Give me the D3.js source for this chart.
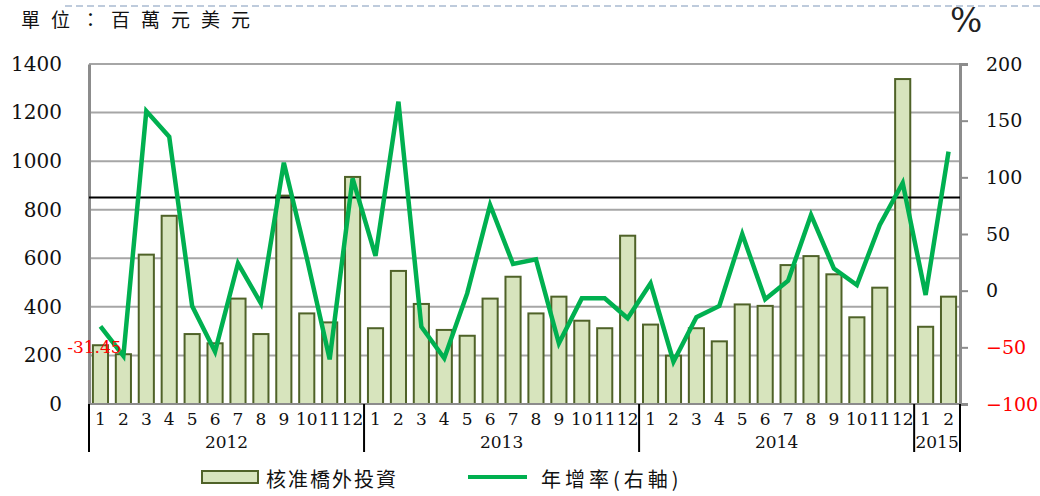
<!DOCTYPE html>
<html lang="zh-Hant">
<meta charset="utf-8">
<style>
body { margin: 0; background: #fff; }
text { font-family: "DejaVu Serif", "Liberation Serif", serif; }
.cjk { font-family: "Noto Sans CJK TC", sans-serif; }
</style>
<body>
<svg width="1040" height="496"></svg>
<script src="https://d3js.org/d3.v7.min.js"></script>
<script>

// data
var years = ["2012", "2013", "2014", "2015"];
var months = [1,2,3,4,5,6,7,8,9,10,11,12, 1,2,3,4,5,6,7,8,9,10,11,12,
              1,2,3,4,5,6,7,8,9,10,11,12, 1,2];
var monthYear = [0,0,0,0,0,0,0,0,0,0,0,0, 1,1,1,1,1,1,1,1,1,1,1,1,
                 2,2,2,2,2,2,2,2,2,2,2,2, 3,3];
var investment = [242, 205, 615, 775, 288, 250, 434, 288, 858, 373, 336, 935,
                  312, 548, 412, 305, 281, 434, 524, 373, 442, 343, 312, 693,
                  327, 199, 312, 258, 410, 404, 572, 609, 534, 357, 479, 1338,
                  318, 442];
var growth = [-31.45, -57.6, 158.5, 135.9, -13.5, -53.8, 24.1, -11.2, 112.9, 29, -60.6, 99,
              30.6, 166.8, -31.8, -59.7, -2.4, 75.6, 23.5, 27.6, -46.5, -6.8, -6.8, -24.4,
              6.5, -62.7, -23.5, -13.5, 50, -7.6, 8.8, 66.8, 19.5, 5, 58, 95, -3.8, 122.6];
var refLine = 850;
var leftTicks = [0, 200, 400, 600, 800, 1000, 1200, 1400];
var rightTicks = [-100, -50, 0, 50, 100, 150, 200];
var legendLabels = ["核准橋外投資", "年增率(右軸)"];

var svg = d3.select("svg");
var plotL = 89, plotR = 960, plotT = 64, plotB = 404;

var x = d3.scaleBand()
    .domain(d3.range(months.length))
    .range([plotL, plotR])
    .paddingInner(0.34)
    .paddingOuter(0.17);
var cx = function(i) { return x(i) + x.bandwidth() / 2; };

var y = d3.scaleLinear().domain([0, 1400]).range([plotB, plotT]);
var y2 = d3.scaleLinear().domain([-100, 200]).range([plotB, plotT]);

// dashed line at top
svg.append("line")
    .attr("x1", 65).attr("x2", 1040).attr("y1", 6).attr("y2", 6)
    .attr("stroke", "#a9bbd1").attr("stroke-width", 1.5)
    .attr("stroke-dasharray", "7,4");

svg.append("text")
    .attr("class", "cjk")
    .attr("x", 21).attr("y", 27)
    .attr("font-size", 19)
    .attr("letter-spacing", 11)
    .attr("fill", "#111")
    .text("單位：百萬元美元");

svg.append("text")
    .attr("x", 950).attr("y", 32)
    .attr("font-family", "Liberation Serif")
    .attr("font-size", 34)
    .attr("fill", "#222")
    .text("%");

// gridlines
svg.append("g")
  .selectAll("line")
  .data(leftTicks.filter(function(d) { return d > 0; }))
  .enter().append("line")
    .attr("x1", plotL).attr("x2", plotR)
    .attr("y1", function(d) { return y(d); })
    .attr("y2", function(d) { return y(d); })
    .attr("stroke", "#a6a6a6").attr("stroke-width", 2);

// left axis
var gl = svg.append("g").attr("transform", "translate(" + plotL + ",0)")
    .call(d3.axisLeft(y).tickValues(leftTicks).tickSize(0).tickPadding(27)
      .tickFormat(d3.format("d")));
gl.select(".domain").attr("stroke", "#8c8c8c").attr("stroke-width", 3);
gl.selectAll("text").attr("font-size", 20).attr("font-family", "DejaVu Serif").attr("fill", "#111");

// right axis
var gr = svg.append("g").attr("transform", "translate(" + plotR + ",0)")
    .call(d3.axisRight(y2).tickValues(rightTicks).tickSize(8).tickPadding(18)
      .tickFormat(d3.format("d")));
gr.select(".domain").attr("stroke", "#8c8c8c").attr("stroke-width", 3);
gr.selectAll("line").attr("stroke", "#8c8c8c").attr("stroke-width", 2);
gr.selectAll("text")
    .attr("font-size", 19).attr("font-family", "DejaVu Serif")
    .attr("fill", function(d) { return d < 0 ? "#ff0000" : "#111"; });

// bars
svg.append("g")
  .selectAll("rect")
  .data(investment)
  .enter().append("rect")
    .attr("x", function(d, i) { return x(i); })
    .attr("y", function(d) { return y(d); })
    .attr("width", x.bandwidth())
    .attr("height", function(d) { return y(0) - y(d); })
    .attr("fill", "#d7e4bd")
    .attr("stroke", "#4f6228")
    .attr("stroke-width", 2);

// baseline
svg.append("line")
    .attr("x1", plotL).attr("x2", plotR).attr("y1", y(0)).attr("y2", y(0))
    .attr("stroke", "#8c8c8c").attr("stroke-width", 2);

// reference line
svg.append("line")
    .attr("x1", plotL).attr("x2", plotR).attr("y1", y(refLine)).attr("y2", y(refLine))
    .attr("stroke", "#000").attr("stroke-width", 2);

// growth line
var line = d3.line()
    .x(function(d, i) { return cx(i); })
    .y(function(d) { return y2(d); });

svg.append("path")
    .datum(growth)
    .attr("fill", "none")
    .attr("stroke", "#00b050")
    .attr("stroke-width", 4.5)
    .attr("stroke-linejoin", "miter")
    .attr("d", line);

svg.append("text")
    .attr("x", cx(0) - 6).attr("y", y2(growth[0]) + 27)
    .attr("text-anchor", "middle")
    .attr("font-size", 17)
    .attr("fill", "#ff0000")
    .text(growth[0].toFixed(2));

// month labels
svg.append("g")
  .selectAll("text")
  .data(months)
  .enter().append("text")
    .attr("x", function(d, i) { return cx(i); })
    .attr("y", 425)
    .attr("text-anchor", "middle")
    .attr("font-size", 17)
    .attr("fill", "#111")
    .text(function(d) { return d; });

// year groups
var groups = years.map(function(yr, k) {
  var idx = monthYear.map(function(m, i) { return m === k ? i : -1; })
      .filter(function(i) { return i >= 0; });
  return { label: yr, x0: x(idx[0]) - x.step() * x.paddingInner() / 2,
           x1: x(idx[idx.length - 1]) + x.bandwidth() + x.step() * x.paddingInner() / 2 };
});
groups[0].x0 = plotL;
groups[groups.length - 1].x1 = plotR;

var bounds = [plotL].concat(groups.map(function(g) { return g.x1; }));
svg.append("g")
  .selectAll("line")
  .data(bounds)
  .enter().append("line")
    .attr("x1", function(d) { return d; }).attr("x2", function(d) { return d; })
    .attr("y1", y(0)).attr("y2", 452)
    .attr("stroke", "#000").attr("stroke-width", 2);

svg.append("g")
  .selectAll("text")
  .data(groups)
  .enter().append("text")
    .attr("x", function(d) { return (d.x0 + d.x1) / 2; })
    .attr("y", 448)
    .attr("text-anchor", "middle")
    .attr("font-size", 17)
    .attr("fill", "#111")
    .text(function(d) { return d.label; });

// legend
var lg = svg.append("g");
lg.append("rect")
    .attr("x", 202).attr("y", 471).attr("width", 56).attr("height", 12)
    .attr("fill", "#d7e4bd").attr("stroke", "#4f6228").attr("stroke-width", 2);
lg.append("text")
    .attr("class", "cjk")
    .attr("x", 266).attr("y", 487)
    .attr("font-size", 20).attr("letter-spacing", 2).attr("fill", "#111")
    .text(legendLabels[0]);
lg.append("line")
    .attr("x1", 468).attr("x2", 527).attr("y1", 477).attr("y2", 477)
    .attr("stroke", "#00b050").attr("stroke-width", 4);
lg.append("text")
    .attr("class", "cjk")
    .attr("x", 541).attr("y", 487)
    .attr("font-size", 20).attr("letter-spacing", 4).attr("fill", "#111")
    .text(legendLabels[1]);

</script>
</body>
</html>
